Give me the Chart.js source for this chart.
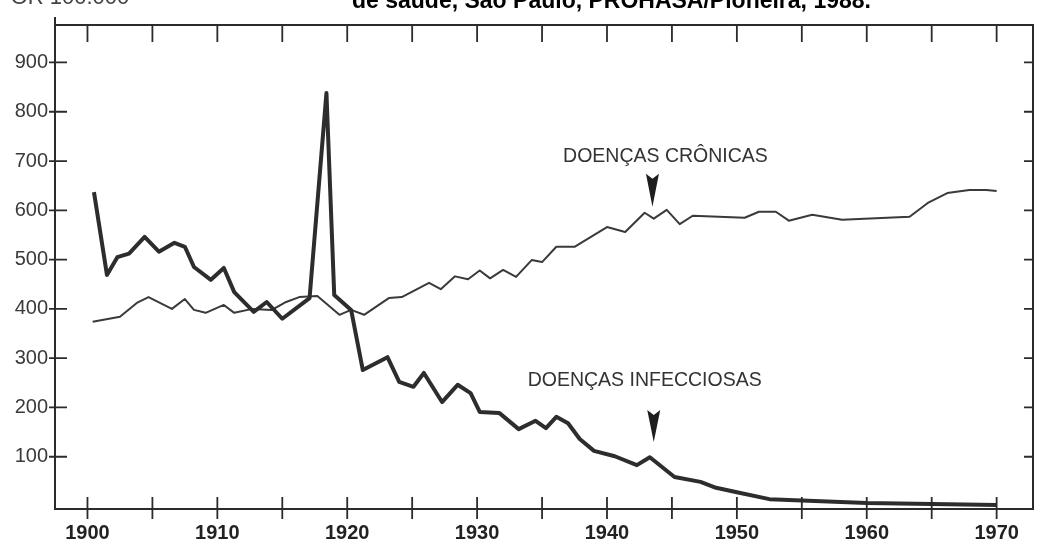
<!DOCTYPE html>
<html><head><meta charset="utf-8">
<script src="https://cdn.jsdelivr.net/npm/chart.js@4.4.0/dist/chart.umd.min.js"></script>
<style>html,body{margin:0;padding:0;background:#fff}#wrap{position:relative;width:1037px;height:548px}</style>
</head><body><div id="wrap"><canvas id="c"></canvas></div>
<script>
// Data (deaths per 100.000)
const infYears  = [1900.5,1901.5,1902.3,1903.2,1904.4,1905.5,1906.7,1907.5,1908.2,1909.5,1910.5,1911.3,1912.8,1913.8,1915,1917.1,1918.4,1919,1920.3,1921.2,1923.1,1924,1925.1,1925.9,1927.3,1928.5,1929.5,1930.2,1931.7,1933.2,1934.5,1935.3,1936.1,1937,1937.9,1939,1940.6,1942.3,1943.3,1945.2,1947.2,1948.4,1950,1952.5,1960,1970];
const infValues = [637,469,505,512,546,516,534,526,485,459,483,434,394,414,380,422,838,428,398,276,302,252,242,270,211,246,229,191,189,156,173,158,181,168,136,112,101,83,99,59,49,37,28,14,6,2];
const croYears  = [1900.4,1902.5,1903.8,1904.7,1906.5,1907.5,1908.2,1909.1,1910.5,1911.3,1912.7,1914.2,1915.3,1916.3,1917.7,1919.4,1920.3,1921.3,1923.2,1924.2,1926.3,1927.2,1928.3,1929.3,1930.2,1931.0,1932.0,1933.0,1934.2,1935.0,1936.1,1937.5,1940.0,1941.4,1942.9,1943.6,1944.6,1945.6,1946.6,1950.6,1951.7,1953.0,1954.0,1955.8,1958.1,1963.3,1964.7,1966.2,1967.9,1969.2,1970.0];
const croValues = [374,384,412,424,400,420,398,392,408,392,400,398,414,424,426,388,398,388,422,424,453,440,466,460,478,462,479,465,499,495,526,526,566,556,595,583,601,572,589,585,597,597,579,591,581,587,615,635,641,641,639];
const xTickLabels = [1900,1910,1920,1930,1940,1950,1960,1970];
const xMinorTicks = [1900,1905,1910,1915,1920,1925,1930,1935,1940,1945,1950,1955,1960,1965,1970];
const yTickLabels = [100,200,300,400,500,600,700,800,900];
const seriesNames = ['DOENÇAS INFECCIOSAS','DOENÇAS CRÔNICAS'];
const topTitle = 'de saúde, São Paulo, PROHASA/Pioneira, 1988.';
const unitLabel = 'POR 100.000';
// annotation anchors in data units
const notes = [
  {text:'DOENÇAS CRÔNICAS', tx:1944.5, ty:708, ax:1943.5, aTop:674, aTip:607},
  {text:'DOENÇAS INFECCIOSAS', tx:1942.9, ty:254, ax:1943.6, aTop:195, aTip:130}
];

const INK = '#2b2b2b';
const frame = {
  id:'frame',
  afterDraw(chart){
    const ctx = chart.ctx, a = chart.chartArea, xs = chart.scales.x, ys = chart.scales.y;
    ctx.save();
    ctx.strokeStyle = INK; ctx.lineWidth = 2; ctx.lineCap = 'butt';
    ctx.beginPath();
    ctx.moveTo(a.left, a.top - 8); ctx.lineTo(a.left, a.bottom); ctx.lineTo(a.right, a.bottom);
    ctx.lineTo(a.right, a.top); ctx.lineTo(a.left, a.top);
    ctx.stroke();
    ctx.lineWidth = 1.8;
    ctx.beginPath();
    yTickLabels.forEach(v => {
      const p = ys.getPixelForValue(v);
      ctx.moveTo(a.left - 6, p); ctx.lineTo(a.left + 12, p);
      ctx.moveTo(a.right - 9, p); ctx.lineTo(a.right, p);
    });
    xMinorTicks.forEach(v => {
      const p = xs.getPixelForValue(v);
      ctx.moveTo(p, a.bottom - 12); ctx.lineTo(p, a.bottom + 10);
      ctx.moveTo(p, a.top); ctx.lineTo(p, a.top + 17);
    });
    ctx.stroke();
    // annotations
    ctx.fillStyle = '#333';
    ctx.font = '19.5px "Liberation Sans", Arial, sans-serif';
    ctx.textAlign = 'center'; ctx.textBaseline = 'middle';
    notes.forEach(n => {
      ctx.fillText(n.text, xs.getPixelForValue(n.tx), ys.getPixelForValue(n.ty));
      const ax = xs.getPixelForValue(n.ax), t = ys.getPixelForValue(n.aTop), tip = ys.getPixelForValue(n.aTip);
      ctx.fillStyle = '#1e1e1e';
      ctx.beginPath();
      ctx.moveTo(ax - 6.5, t); ctx.lineTo(ax, t + 5); ctx.lineTo(ax + 6.5, t); ctx.lineTo(ax, tip); ctx.closePath();
      ctx.fill();
      ctx.fillStyle = '#333';
    });
    // cut-off captions at the top of the scan
    ctx.textAlign = 'left'; ctx.textBaseline = 'alphabetic';
    ctx.fillStyle = '#000';
    ctx.font = 'bold 23px "Liberation Sans", Arial, sans-serif';
    ctx.fillText(topTitle, 352, 8);
    ctx.fillStyle = '#444';
    ctx.font = '22px "Liberation Sans", Arial, sans-serif';
    ctx.fillText(unitLabel, -4, 4);
    ctx.restore();
  }
};

new Chart(document.getElementById('c'), {
  type:'line',
  data:{
    datasets:[
      {label:seriesNames[0], data:infYears.map((x,i)=>({x, y:infValues[i]})), borderColor:'#2d2d2d', borderWidth:4, pointRadius:0, tension:0, borderJoinStyle:'round', fill:false},
      {label:seriesNames[1], data:croYears.map((x,i)=>({x, y:croValues[i]})), borderColor:'#3a3a3a', borderWidth:2, pointRadius:0, tension:0, borderJoinStyle:'round', fill:false}
    ]
  },
  options:{
    responsive:true, maintainAspectRatio:false, animation:false,
    layout:{padding:{top:25, right:4, left:0, bottom:0}},
    plugins:{legend:{display:false}, tooltip:{enabled:false}},
    scales:{
      x:{type:'linear', min:1897.5, max:1972.8,
        grid:{display:false, drawTicks:false}, border:{display:false},
        afterBuildTicks(s){ s.ticks = xTickLabels.map(v=>({value:v})); },
        afterFit(s){ s.height = 39; },
        ticks:{padding:12, color:'#222', maxRotation:0, autoSkip:false,
          font:{family:'"Liberation Sans", Arial, sans-serif', size:20, weight:'bold'},
          callback:v=>String(v)}
      },
      y:{type:'linear', min:-6, max:976,
        grid:{display:false, drawTicks:false}, border:{display:false},
        afterBuildTicks(s){ s.ticks = yTickLabels.map(v=>({value:v})); },
        afterFit(s){ s.width = 55; },
        ticks:{padding:7, color:'#3a3a3a', autoSkip:false,
          font:{family:'"Liberation Sans", Arial, sans-serif', size:20}}
      }
    }
  },
  plugins:[frame]
});
</script>
</body></html>
